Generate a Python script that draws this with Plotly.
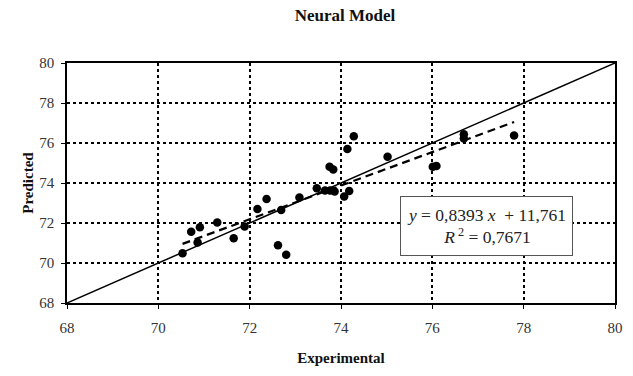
import plotly.graph_objects as go

# Experimental vs. predicted values
experimental = [70.53, 70.72, 70.91, 70.86, 71.29, 71.65, 71.89, 72.17, 72.37, 72.62,
                72.80, 72.69, 73.09, 73.47, 73.65, 73.76, 73.86, 73.75, 73.83, 74.07,
                74.18, 74.14, 74.28, 75.02, 76.01, 76.09, 76.69, 76.69, 77.79]
predicted = [70.49, 71.56, 71.79, 71.02, 72.02, 71.24, 71.82, 72.70, 73.20, 70.89,
             70.41, 72.65, 73.27, 73.74, 73.62, 73.62, 73.57, 74.81, 74.68, 73.32,
             73.60, 75.70, 76.34, 75.31, 74.81, 74.85, 76.44, 76.23, 76.38]

# Linear trend parameters
slope = 0.8393
intercept = 11.761
r_squared = 0.7671

axis_range = [68, 80]
tick_values = [68, 70, 72, 74, 76, 78, 80]

serif = "Liberation Serif"

fig = go.Figure()

# Identity line y = x
fig.add_trace(go.Scatter(
    x=axis_range, y=axis_range, mode="lines",
    line=dict(color="black", width=1.5), hoverinfo="skip", showlegend=False))

# Trend line across the experimental range
x_fit = [min(experimental), max(experimental)]
y_fit = [slope * v + intercept for v in x_fit]
fig.add_trace(go.Scatter(
    x=x_fit, y=y_fit, mode="lines",
    line=dict(color="black", width=2.2, dash="8px,5px"), showlegend=False))

fig.add_trace(go.Scatter(
    x=experimental, y=predicted, mode="markers",
    marker=dict(color="black", size=8.5), showlegend=False))

def fmt(v, nd):
    return f"{v:.{nd}f}".replace(".", ",")

eq_text = (f"<i>y</i> = {fmt(slope, 4)} <i>x</i>  + {fmt(intercept, 3)}<br>"
           f"<i>R</i><sup> 2</sup> = {fmt(r_squared, 4)}")
fig.add_annotation(
    x=77.19, y=71.85, xref="x", yref="y", text=eq_text, showarrow=False,
    font=dict(family=serif, size=17.5, color="#222"),
    bgcolor="white", bordercolor="#555", borderwidth=1,
    width=169, height=56, align="center")

axis_common = dict(
    range=axis_range, tickvals=tick_values, showgrid=True,
    gridcolor="black", griddash="dot", gridwidth=1.5,
    showline=True, linecolor="black", linewidth=1.5, mirror=True,
    ticks="outside", ticklen=4, tickcolor="black", zeroline=False,
    tickfont=dict(family=serif, size=15, color="#333"))

fig.update_xaxes(**axis_common, ticklabelstandoff=6,
                 title=dict(text="<b>Experimental</b>", standoff=18,
                            font=dict(family=serif, size=15, color="#111")))
fig.update_yaxes(**axis_common, ticklabelstandoff=4,
                 title=dict(text="<b>Predicted</b>", standoff=2,
                            font=dict(family=serif, size=15, color="#111")))

fig.update_layout(
    width=633, height=376,
    margin=dict(l=67, r=10, t=63, b=73),
    plot_bgcolor="white", paper_bgcolor="white",
    title=dict(text="<b>Neural Model</b>", x=0.545, xanchor="center",
               y=0.975, yanchor="top",
               font=dict(family=serif, size=17, color="#111")))

fig.write_html("out.html")
